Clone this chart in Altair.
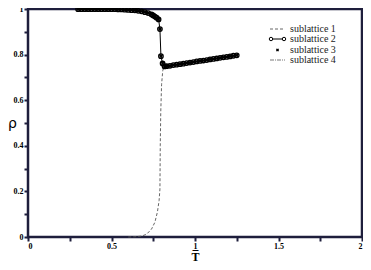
import altair as alt
import pandas as pd

# sublattice 1 (dashed)
T1 = [0.60, 0.64, 0.68, 0.71, 0.74, 0.76, 0.775, 0.785, 0.79, 0.792, 0.795, 0.80, 0.807, 0.815]
R1 = [0.0, 0.001, 0.004, 0.012, 0.035, 0.065, 0.11, 0.16, 0.21, 0.40, 0.55, 0.67, 0.73, 0.75]

# sublattice 2 (line + circles); sublattices 3 and 4 coincide with it
T2 = [0.30, 0.32, 0.34, 0.36, 0.38, 0.40, 0.42, 0.44, 0.46, 0.48, 0.50,
      0.52, 0.54, 0.56, 0.58, 0.60, 0.62, 0.64, 0.66, 0.68, 0.70,
      0.72, 0.74, 0.75, 0.76, 0.77, 0.782, 0.790, 0.796, 0.806, 0.818,
      0.83, 0.85, 0.87, 0.89, 0.91, 0.93, 0.95, 0.97, 0.99, 1.01,
      1.03, 1.05, 1.07, 1.09, 1.11, 1.13, 1.15, 1.17, 1.19, 1.21, 1.23, 1.25]
R2 = [0.999, 0.999, 0.999, 0.999, 0.999, 0.999, 0.999, 0.999, 0.999, 0.999, 0.999,
      0.999, 0.998, 0.998, 0.997, 0.996, 0.995, 0.994, 0.992, 0.990, 0.986,
      0.982, 0.976, 0.972, 0.967, 0.962, 0.954, 0.912, 0.793, 0.761, 0.748,
      0.749, 0.751, 0.754, 0.756, 0.758, 0.760, 0.763, 0.765, 0.767, 0.770,
      0.772, 0.774, 0.776, 0.779, 0.781, 0.783, 0.786, 0.788, 0.790, 0.792, 0.795, 0.797]

x_ticks = [0, 0.25, 0.5, 0.75, 1, 1.25, 1.5, 1.75, 2]
y_ticks = [0, 0.1, 0.2, 0.3, 0.4, 0.5, 0.6, 0.7, 0.8, 0.9, 1.0]
legend_labels = ["sublattice 1", "sublattice 2", "sublattice 3", "sublattice 4"]

W, H = 334, 228
SERIF = "Liberation Serif"
INK = "#1e1e3c"
xs = alt.Scale(domain=[0, 2], nice=False, zero=False)
ys = alt.Scale(domain=[0, 1], nice=False, zero=False)
d1 = pd.DataFrame({"T": T1, "rho": R1})
d2 = pd.DataFrame({"T": T2, "rho": R2})
one = pd.DataFrame({"a": [0]})

xax = alt.Axis(values=x_ticks, format="~g",
               labelExpr="round(datum.value*4) % 2 == 0 ? datum.label : ''",
               tickSize=4, tickColor=INK, tickWidth=2,
               domain=False, grid=False,
               labelFont=SERIF, labelFontSize=8, labelFontWeight="bold", labelColor="black",
               labelPadding=1, title="T\u0305", titleFont=SERIF, titleFontSize=12,
               titleFontWeight="bold", titleColor="black", titlePadding=1)
yax = alt.Axis(values=y_ticks, format="~g",
               labelExpr="round(datum.value*10) % 2 == 0 ? datum.label : ''",
               tickSize=4, tickColor=INK, tickWidth=2,
               domain=False, grid=False,
               labelFont=SERIF, labelFontSize=8, labelFontWeight="bold", labelColor="black",
               labelPadding=1, title="ρ", titleFont="DejaVu Sans", titleFontSize=14,
               titleFontWeight="normal", titleColor="black", titleAngle=0,
               titleAlign="center", titleBaseline="middle", titleX=-16, titleY=114)


def X():
    return alt.X("T:Q", scale=xs, axis=xax)


def Y():
    return alt.Y("rho:Q", scale=ys, axis=yax)


line2 = alt.Chart(d2).mark_line(color="black", strokeWidth=1).encode(x=X(), y=Y())
circ2 = alt.Chart(d2).mark_point(shape="circle", size=20, color="black", strokeWidth=1.3,
                                 filled=False, opacity=1).encode(x=X(), y=Y())
cross3 = alt.Chart(d2).mark_point(shape="cross", angle=45, size=14, color="black",
                                  filled=True, opacity=1).encode(x=X(), y=Y())
line1 = alt.Chart(d1).mark_line(color="#555555", strokeWidth=0.9, strokeDash=[3, 2]).encode(
    x=X(), y=Y())

# legend
LX0, LX1, TX = 242, 257, 262
LY = [20, 30, 41, 51]
leg = []
leg.append(alt.Chart(one).mark_rule(color="#555555", strokeWidth=0.9, strokeDash=[3, 2]).encode(
    x=alt.value(LX0), x2=alt.value(LX1), y=alt.value(LY[0])))
leg.append(alt.Chart(one).mark_rule(color="black", strokeWidth=1).encode(
    x=alt.value(LX0 + 1), x2=alt.value(LX1 - 1), y=alt.value(LY[1])))
for xv in (LX0 + 1, LX1 - 1):
    leg.append(alt.Chart(one).mark_point(shape="circle", size=12, color="black", filled=False,
                                         fill="white", strokeWidth=1, opacity=1).encode(
        x=alt.value(xv), y=alt.value(LY[1])))
leg.append(alt.Chart(one).mark_point(shape="cross", angle=45, size=10, color="black",
                                     filled=True, opacity=1).encode(
    x=alt.value((LX0 + LX1) / 2), y=alt.value(LY[2])))
leg.append(alt.Chart(one).mark_rule(color="#555555", strokeWidth=0.8, strokeDash=[4, 1, 1, 1]).encode(
    x=alt.value(LX0), x2=alt.value(LX1), y=alt.value(LY[3])))
for lab, yv in zip(legend_labels, LY):
    leg.append(alt.Chart(one).mark_text(align="left", baseline="middle", font=SERIF,
                                        fontSize=10, color="#222222").encode(
        x=alt.value(TX), y=alt.value(yv), text=alt.value(lab)))

chart = alt.layer(line2, line1, circ2, cross3, *leg).properties(
    width=W, height=H,
    autosize=alt.AutoSizeParams(type="none"),
    padding={"left": 20, "top": 1, "right": 1, "bottom": 25},
).configure_view(stroke=INK, strokeWidth=2.5)

chart.save("out.html", embed_options={"renderer": "svg", "actions": False})
